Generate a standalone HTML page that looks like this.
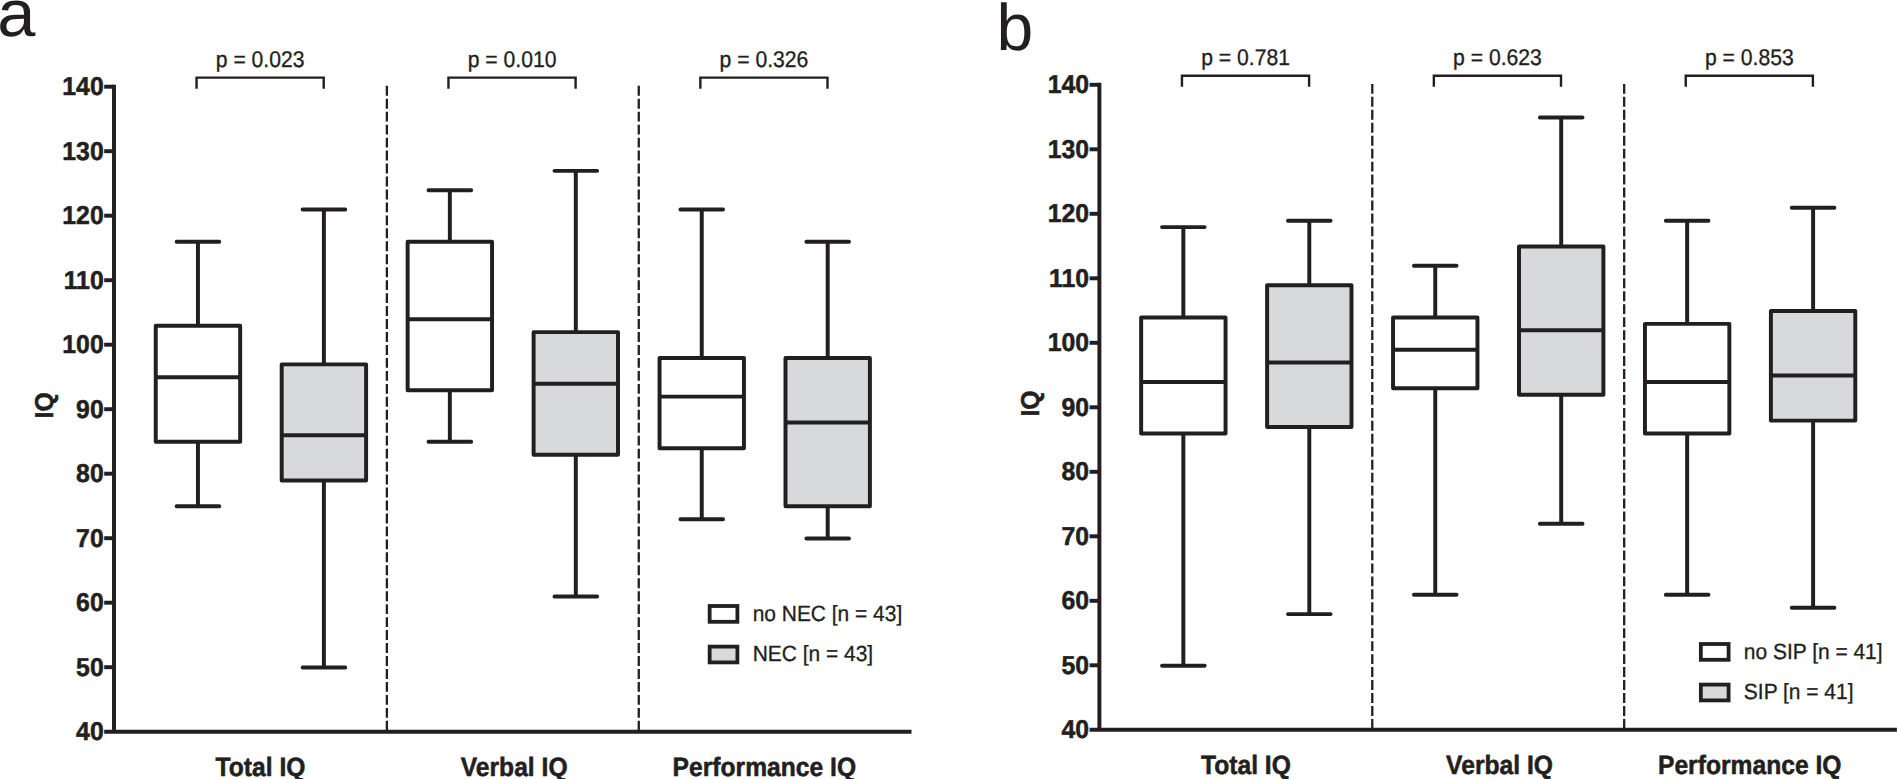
<!DOCTYPE html>
<html lang="en">
<head>
<meta charset="utf-8">
<title>IQ box plots</title>
<style>
html,body{margin:0;padding:0;background:#fff;}
body{width:1897px;height:779px;overflow:hidden;}
svg{display:block;}
text{font-family:"Liberation Sans",Arial,Helvetica,sans-serif;fill:#231f20;text-rendering:geometricPrecision;}
.b{font-weight:bold;}
.r{font-weight:normal;}
.s{stroke:#231f20;stroke-width:0.3px;}
.s2{stroke:#231f20;stroke-width:0.5px;}
</style>
</head>
<body>
<svg width="1897" height="779" viewBox="0 0 1897 779">
<rect x="0" y="0" width="1897" height="779" fill="#fff"/>
<g>
<text transform="translate(-2.76 36.20) scale(1.04 1.0)" font-size="66" class="r">a</text>
<line x1="386.88" y1="85.80" x2="386.88" y2="731.70" stroke="#231f20" stroke-width="2.3" stroke-dasharray="9.9 3.06"/>
<line x1="638.77" y1="85.80" x2="638.77" y2="731.70" stroke="#231f20" stroke-width="2.3" stroke-dasharray="9.9 3.06"/>
<path d="M114.00 84.73V731.70M104.20 731.70H911.50" fill="none" stroke="#231f20" stroke-width="3.95"/>
<text transform="translate(103.70 740.00) scale(1.0 1.045)" text-anchor="end" font-size="24.8" class="b s2">40</text>
<line x1="104.20" y1="667.20" x2="114.00" y2="667.20" stroke="#231f20" stroke-width="3.95"/>
<text transform="translate(103.70 676.00) scale(1.0 1.045)" text-anchor="end" font-size="24.8" class="b s2">50</text>
<line x1="104.20" y1="602.70" x2="114.00" y2="602.70" stroke="#231f20" stroke-width="3.95"/>
<text transform="translate(103.70 611.00) scale(1.0 1.045)" text-anchor="end" font-size="24.8" class="b s2">60</text>
<line x1="104.20" y1="538.20" x2="114.00" y2="538.20" stroke="#231f20" stroke-width="3.95"/>
<text transform="translate(103.70 547.00) scale(1.0 1.045)" text-anchor="end" font-size="24.8" class="b s2">70</text>
<line x1="104.20" y1="473.70" x2="114.00" y2="473.70" stroke="#231f20" stroke-width="3.95"/>
<text transform="translate(103.70 482.00) scale(1.0 1.045)" text-anchor="end" font-size="24.8" class="b s2">80</text>
<line x1="104.20" y1="409.20" x2="114.00" y2="409.20" stroke="#231f20" stroke-width="3.95"/>
<text transform="translate(103.70 418.00) scale(1.0 1.045)" text-anchor="end" font-size="24.8" class="b s2">90</text>
<line x1="104.20" y1="344.70" x2="114.00" y2="344.70" stroke="#231f20" stroke-width="3.95"/>
<text transform="translate(103.70 353.00) scale(1.0 1.045)" text-anchor="end" font-size="24.8" class="b s2">100</text>
<line x1="104.20" y1="280.20" x2="114.00" y2="280.20" stroke="#231f20" stroke-width="3.95"/>
<text transform="translate(103.70 289.00) scale(1.0 1.045)" text-anchor="end" font-size="24.8" class="b s2">110</text>
<line x1="104.20" y1="215.70" x2="114.00" y2="215.70" stroke="#231f20" stroke-width="3.95"/>
<text transform="translate(103.70 224.00) scale(1.0 1.045)" text-anchor="end" font-size="24.8" class="b s2">120</text>
<line x1="104.20" y1="151.20" x2="114.00" y2="151.20" stroke="#231f20" stroke-width="3.95"/>
<text transform="translate(103.70 160.00) scale(1.0 1.045)" text-anchor="end" font-size="24.8" class="b s2">130</text>
<line x1="104.20" y1="86.70" x2="114.00" y2="86.70" stroke="#231f20" stroke-width="3.95"/>
<text transform="translate(103.70 95.00) scale(1.0 1.045)" text-anchor="end" font-size="24.8" class="b s2">140</text>
<text transform="translate(53.10 405.40) rotate(-90) scale(1.0 1.04)" text-anchor="middle" font-size="24.8" class="b s2">IQ</text>
<path d="M197.95 241.80V325.65M197.95 441.75V506.25" stroke="#231f20" stroke-width="3.95" fill="none"/>
<path d="M176.65 241.80H219.25M176.65 506.25H219.25" stroke="#231f20" stroke-width="3.95" stroke-linecap="round" fill="none"/>
<rect x="155.75" y="325.65" width="84.40" height="116.10" fill="#fff" stroke="#231f20" stroke-width="3.95" stroke-linejoin="round"/>
<line x1="155.75" y1="377.25" x2="240.15" y2="377.25" stroke="#231f20" stroke-width="3.95"/>
<path d="M323.90 209.55V364.35M323.90 480.45V667.50" stroke="#231f20" stroke-width="3.95" fill="none"/>
<path d="M302.60 209.55H345.20M302.60 667.50H345.20" stroke="#231f20" stroke-width="3.95" stroke-linecap="round" fill="none"/>
<rect x="281.70" y="364.35" width="84.40" height="116.10" fill="#d8d9db" stroke="#231f20" stroke-width="3.95" stroke-linejoin="round"/>
<line x1="281.70" y1="435.30" x2="366.10" y2="435.30" stroke="#231f20" stroke-width="3.95"/>
<path d="M449.85 190.20V241.80M449.85 390.15V441.75" stroke="#231f20" stroke-width="3.95" fill="none"/>
<path d="M428.55 190.20H471.15M428.55 441.75H471.15" stroke="#231f20" stroke-width="3.95" stroke-linecap="round" fill="none"/>
<rect x="407.65" y="241.80" width="84.40" height="148.35" fill="#fff" stroke="#231f20" stroke-width="3.95" stroke-linejoin="round"/>
<line x1="407.65" y1="319.20" x2="492.05" y2="319.20" stroke="#231f20" stroke-width="3.95"/>
<path d="M575.80 170.85V332.10M575.80 454.65V596.55" stroke="#231f20" stroke-width="3.95" fill="none"/>
<path d="M554.50 170.85H597.10M554.50 596.55H597.10" stroke="#231f20" stroke-width="3.95" stroke-linecap="round" fill="none"/>
<rect x="533.60" y="332.10" width="84.40" height="122.55" fill="#d8d9db" stroke="#231f20" stroke-width="3.95" stroke-linejoin="round"/>
<line x1="533.60" y1="383.70" x2="618.00" y2="383.70" stroke="#231f20" stroke-width="3.95"/>
<path d="M701.75 209.55V357.90M701.75 448.20V519.15" stroke="#231f20" stroke-width="3.95" fill="none"/>
<path d="M680.45 209.55H723.05M680.45 519.15H723.05" stroke="#231f20" stroke-width="3.95" stroke-linecap="round" fill="none"/>
<rect x="659.55" y="357.90" width="84.40" height="90.30" fill="#fff" stroke="#231f20" stroke-width="3.95" stroke-linejoin="round"/>
<line x1="659.55" y1="396.60" x2="743.95" y2="396.60" stroke="#231f20" stroke-width="3.95"/>
<path d="M827.70 241.80V357.90M827.70 506.25V538.50" stroke="#231f20" stroke-width="3.95" fill="none"/>
<path d="M806.40 241.80H849.00M806.40 538.50H849.00" stroke="#231f20" stroke-width="3.95" stroke-linecap="round" fill="none"/>
<rect x="785.50" y="357.90" width="84.40" height="148.35" fill="#d8d9db" stroke="#231f20" stroke-width="3.95" stroke-linejoin="round"/>
<line x1="785.50" y1="422.40" x2="869.90" y2="422.40" stroke="#231f20" stroke-width="3.95"/>
<path d="M196.55 88.70V77.60H323.70V88.70" fill="none" stroke="#231f20" stroke-width="2.4"/>
<text transform="translate(260.12 67.00) scale(1.0 1.07)" text-anchor="middle" font-size="21.15" class="r s">p = 0.023</text>
<text transform="translate(260.52 776.00) scale(1.0 1.07)" text-anchor="middle" font-size="24.65" class="b s2">Total IQ</text>
<path d="M448.45 88.70V77.60H575.60V88.70" fill="none" stroke="#231f20" stroke-width="2.4"/>
<text transform="translate(512.03 67.00) scale(1.0 1.07)" text-anchor="middle" font-size="21.15" class="r s">p = 0.010</text>
<text transform="translate(514.12 776.00) scale(1.0 1.07)" text-anchor="middle" font-size="24.65" class="b s2">Verbal IQ</text>
<path d="M700.35 88.70V77.60H827.50V88.70" fill="none" stroke="#231f20" stroke-width="2.4"/>
<text transform="translate(763.93 67.00) scale(1.0 1.07)" text-anchor="middle" font-size="21.15" class="r s">p = 0.326</text>
<text transform="translate(764.33 776.00) scale(1.0 1.07)" text-anchor="middle" font-size="24.65" class="b s2">Performance IQ</text>
<rect x="709.65" y="606.00" width="27.75" height="15.8" fill="#fff" stroke="#231f20" stroke-width="3.8"/>
<text transform="translate(752.65 621.00) scale(1.0 1.05)" font-size="20.95" class="r s">no NEC [n = 43]</text>
<rect x="709.65" y="646.60" width="27.75" height="15.8" fill="#d8d9db" stroke="#231f20" stroke-width="3.8"/>
<text transform="translate(752.65 661.00) scale(1.0 1.05)" font-size="20.95" class="r s">NEC [n = 43]</text>
</g>
<g>
<text transform="translate(996.50 49.60)" font-size="66" class="r">b</text>
<line x1="1372.28" y1="83.90" x2="1372.28" y2="729.80" stroke="#231f20" stroke-width="2.3" stroke-dasharray="9.9 3.06"/>
<line x1="1624.18" y1="83.90" x2="1624.18" y2="729.80" stroke="#231f20" stroke-width="2.3" stroke-dasharray="9.9 3.06"/>
<path d="M1099.40 82.82V729.80M1089.60 729.80H1896.90" fill="none" stroke="#231f20" stroke-width="3.95"/>
<text transform="translate(1089.10 738.00) scale(1.0 1.045)" text-anchor="end" font-size="24.8" class="b s2">40</text>
<line x1="1089.60" y1="665.30" x2="1099.40" y2="665.30" stroke="#231f20" stroke-width="3.95"/>
<text transform="translate(1089.10 674.00) scale(1.0 1.045)" text-anchor="end" font-size="24.8" class="b s2">50</text>
<line x1="1089.60" y1="600.80" x2="1099.40" y2="600.80" stroke="#231f20" stroke-width="3.95"/>
<text transform="translate(1089.10 609.00) scale(1.0 1.045)" text-anchor="end" font-size="24.8" class="b s2">60</text>
<line x1="1089.60" y1="536.30" x2="1099.40" y2="536.30" stroke="#231f20" stroke-width="3.95"/>
<text transform="translate(1089.10 545.00) scale(1.0 1.045)" text-anchor="end" font-size="24.8" class="b s2">70</text>
<line x1="1089.60" y1="471.80" x2="1099.40" y2="471.80" stroke="#231f20" stroke-width="3.95"/>
<text transform="translate(1089.10 480.00) scale(1.0 1.045)" text-anchor="end" font-size="24.8" class="b s2">80</text>
<line x1="1089.60" y1="407.30" x2="1099.40" y2="407.30" stroke="#231f20" stroke-width="3.95"/>
<text transform="translate(1089.10 416.00) scale(1.0 1.045)" text-anchor="end" font-size="24.8" class="b s2">90</text>
<line x1="1089.60" y1="342.80" x2="1099.40" y2="342.80" stroke="#231f20" stroke-width="3.95"/>
<text transform="translate(1089.10 351.00) scale(1.0 1.045)" text-anchor="end" font-size="24.8" class="b s2">100</text>
<line x1="1089.60" y1="278.30" x2="1099.40" y2="278.30" stroke="#231f20" stroke-width="3.95"/>
<text transform="translate(1089.10 287.00) scale(1.0 1.045)" text-anchor="end" font-size="24.8" class="b s2">110</text>
<line x1="1089.60" y1="213.80" x2="1099.40" y2="213.80" stroke="#231f20" stroke-width="3.95"/>
<text transform="translate(1089.10 222.00) scale(1.0 1.045)" text-anchor="end" font-size="24.8" class="b s2">120</text>
<line x1="1089.60" y1="149.30" x2="1099.40" y2="149.30" stroke="#231f20" stroke-width="3.95"/>
<text transform="translate(1089.10 158.00) scale(1.0 1.045)" text-anchor="end" font-size="24.8" class="b s2">130</text>
<line x1="1089.60" y1="84.80" x2="1099.40" y2="84.80" stroke="#231f20" stroke-width="3.95"/>
<text transform="translate(1089.10 93.00) scale(1.0 1.045)" text-anchor="end" font-size="24.8" class="b s2">140</text>
<text transform="translate(1038.50 403.50) rotate(-90) scale(1.0 1.04)" text-anchor="middle" font-size="24.8" class="b s2">IQ</text>
<path d="M1183.35 227.10V317.40M1183.35 433.50V665.70" stroke="#231f20" stroke-width="3.95" fill="none"/>
<path d="M1162.05 227.10H1204.65M1162.05 665.70H1204.65" stroke="#231f20" stroke-width="3.95" stroke-linecap="round" fill="none"/>
<rect x="1141.15" y="317.40" width="84.40" height="116.10" fill="#fff" stroke="#231f20" stroke-width="3.95" stroke-linejoin="round"/>
<line x1="1141.15" y1="381.90" x2="1225.55" y2="381.90" stroke="#231f20" stroke-width="3.95"/>
<path d="M1309.30 220.65V285.15M1309.30 427.05V614.10" stroke="#231f20" stroke-width="3.95" fill="none"/>
<path d="M1288.00 220.65H1330.60M1288.00 614.10H1330.60" stroke="#231f20" stroke-width="3.95" stroke-linecap="round" fill="none"/>
<rect x="1267.10" y="285.15" width="84.40" height="141.90" fill="#d8d9db" stroke="#231f20" stroke-width="3.95" stroke-linejoin="round"/>
<line x1="1267.10" y1="362.55" x2="1351.50" y2="362.55" stroke="#231f20" stroke-width="3.95"/>
<path d="M1435.25 265.80V317.40M1435.25 388.35V594.75" stroke="#231f20" stroke-width="3.95" fill="none"/>
<path d="M1413.95 265.80H1456.55M1413.95 594.75H1456.55" stroke="#231f20" stroke-width="3.95" stroke-linecap="round" fill="none"/>
<rect x="1393.05" y="317.40" width="84.40" height="70.95" fill="#fff" stroke="#231f20" stroke-width="3.95" stroke-linejoin="round"/>
<line x1="1393.05" y1="349.65" x2="1477.45" y2="349.65" stroke="#231f20" stroke-width="3.95"/>
<path d="M1561.20 117.45V246.45M1561.20 394.80V523.80" stroke="#231f20" stroke-width="3.95" fill="none"/>
<path d="M1539.90 117.45H1582.50M1539.90 523.80H1582.50" stroke="#231f20" stroke-width="3.95" stroke-linecap="round" fill="none"/>
<rect x="1519.00" y="246.45" width="84.40" height="148.35" fill="#d8d9db" stroke="#231f20" stroke-width="3.95" stroke-linejoin="round"/>
<line x1="1519.00" y1="330.30" x2="1603.40" y2="330.30" stroke="#231f20" stroke-width="3.95"/>
<path d="M1687.15 220.65V323.85M1687.15 433.50V594.75" stroke="#231f20" stroke-width="3.95" fill="none"/>
<path d="M1665.85 220.65H1708.45M1665.85 594.75H1708.45" stroke="#231f20" stroke-width="3.95" stroke-linecap="round" fill="none"/>
<rect x="1644.95" y="323.85" width="84.40" height="109.65" fill="#fff" stroke="#231f20" stroke-width="3.95" stroke-linejoin="round"/>
<line x1="1644.95" y1="381.90" x2="1729.35" y2="381.90" stroke="#231f20" stroke-width="3.95"/>
<path d="M1813.10 207.75V310.95M1813.10 420.60V607.65" stroke="#231f20" stroke-width="3.95" fill="none"/>
<path d="M1791.80 207.75H1834.40M1791.80 607.65H1834.40" stroke="#231f20" stroke-width="3.95" stroke-linecap="round" fill="none"/>
<rect x="1770.90" y="310.95" width="84.40" height="109.65" fill="#d8d9db" stroke="#231f20" stroke-width="3.95" stroke-linejoin="round"/>
<line x1="1770.90" y1="375.45" x2="1855.30" y2="375.45" stroke="#231f20" stroke-width="3.95"/>
<path d="M1181.95 86.80V75.70H1309.10V86.80" fill="none" stroke="#231f20" stroke-width="2.4"/>
<text transform="translate(1245.53 65.00) scale(1.0 1.07)" text-anchor="middle" font-size="21.15" class="r s">p = 0.781</text>
<text transform="translate(1245.93 774.00) scale(1.0 1.07)" text-anchor="middle" font-size="24.65" class="b s2">Total IQ</text>
<path d="M1433.85 86.80V75.70H1561.00V86.80" fill="none" stroke="#231f20" stroke-width="2.4"/>
<text transform="translate(1497.43 65.00) scale(1.0 1.07)" text-anchor="middle" font-size="21.15" class="r s">p = 0.623</text>
<text transform="translate(1499.53 774.00) scale(1.0 1.07)" text-anchor="middle" font-size="24.65" class="b s2">Verbal IQ</text>
<path d="M1685.75 86.80V75.70H1812.90V86.80" fill="none" stroke="#231f20" stroke-width="2.4"/>
<text transform="translate(1749.33 65.00) scale(1.0 1.07)" text-anchor="middle" font-size="21.15" class="r s">p = 0.853</text>
<text transform="translate(1749.72 774.00) scale(1.0 1.07)" text-anchor="middle" font-size="24.65" class="b s2">Performance IQ</text>
<rect x="1700.85" y="644.00" width="27.75" height="15.8" fill="#fff" stroke="#231f20" stroke-width="3.8"/>
<text transform="translate(1743.85 659.00) scale(1.0 1.05)" font-size="20.95" class="r s">no SIP [n = 41]</text>
<rect x="1700.85" y="684.60" width="27.75" height="15.8" fill="#d8d9db" stroke="#231f20" stroke-width="3.8"/>
<text transform="translate(1743.85 699.00) scale(1.0 1.05)" font-size="20.95" class="r s">SIP [n = 41]</text>
</g>
</svg>
</body>
</html>
